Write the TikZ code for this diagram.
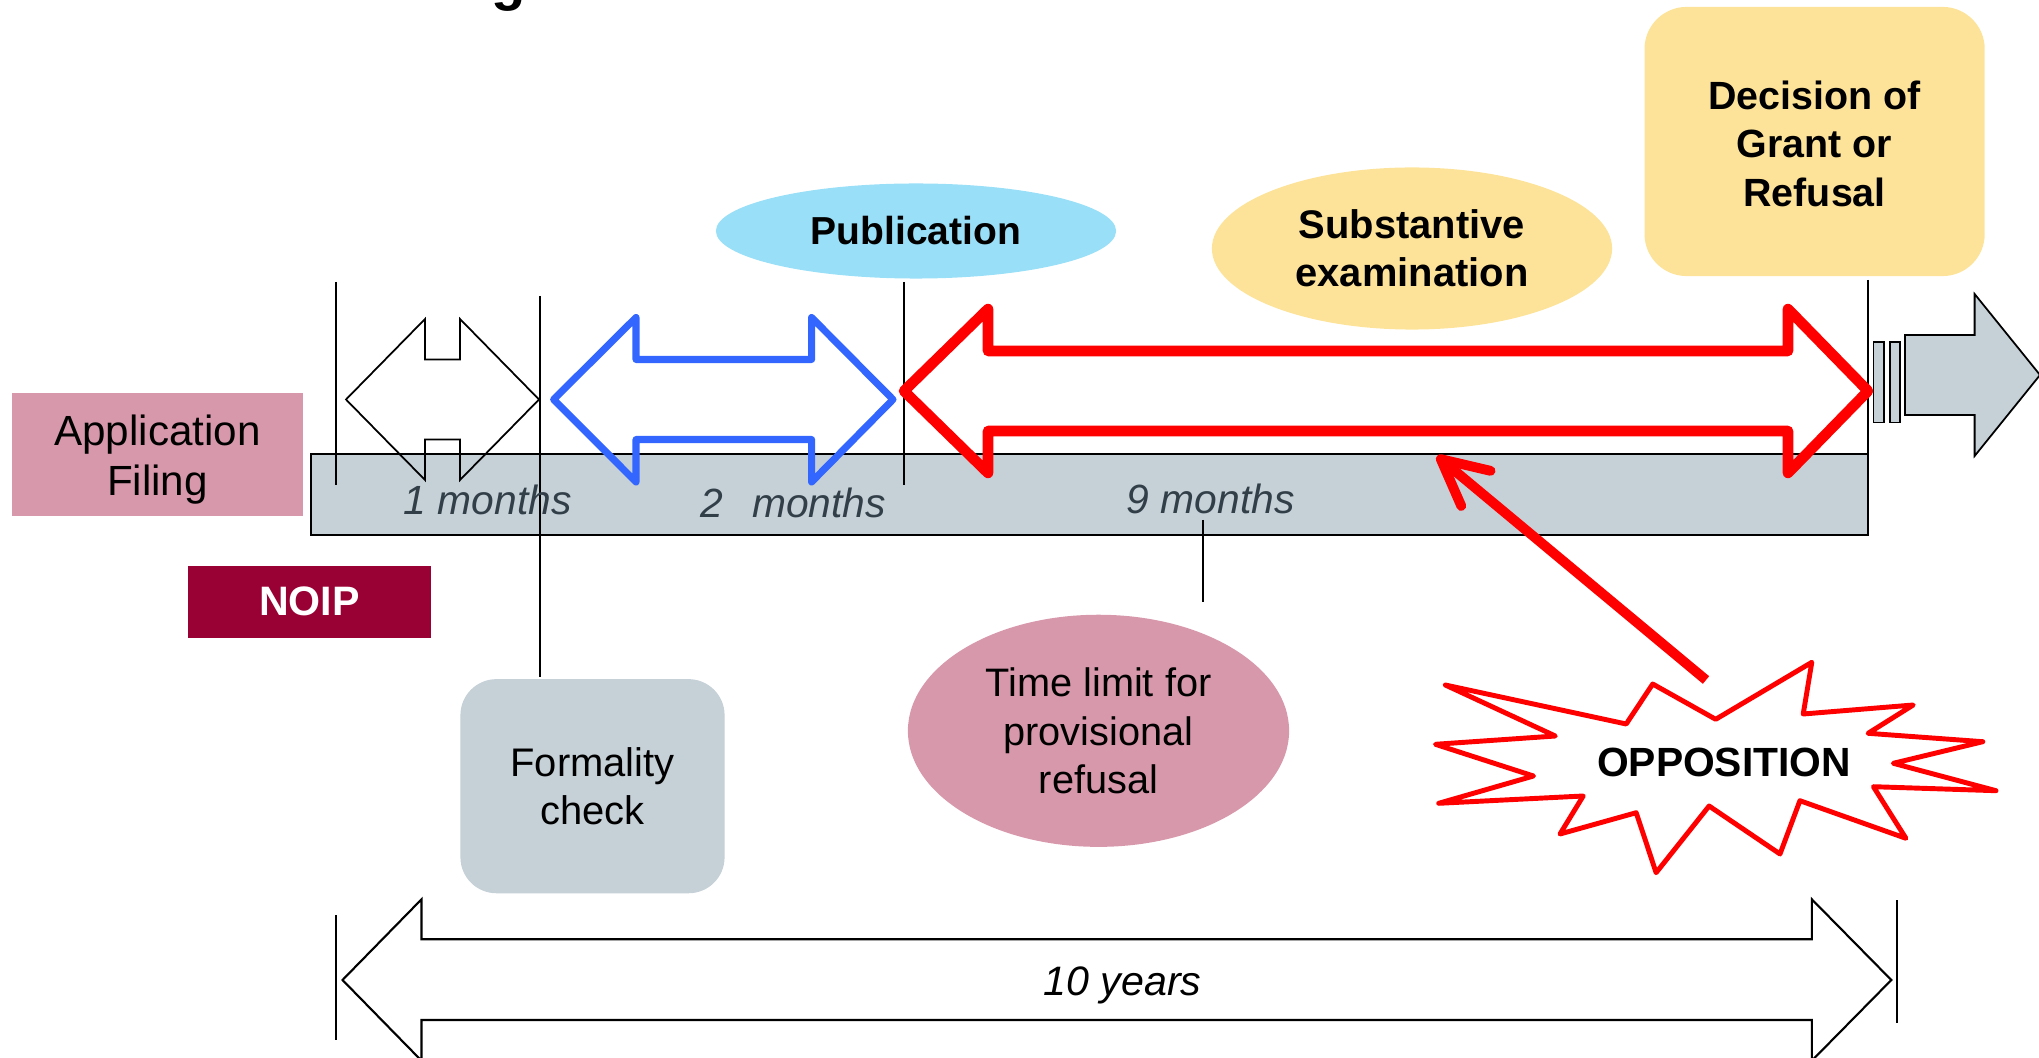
\documentclass[tikz,border=0pt]{standalone}
\usepackage{fontspec}
\setmainfont{Liberation Sans}
\usetikzlibrary{arrows.meta,shapes.geometric}
\definecolor{pinkf}{HTML}{D898AC}
\definecolor{barg}{HTML}{C5D0D7}
\definecolor{pubblue}{HTML}{99DFF7}
\definecolor{yel}{HTML}{FDE39A}
\definecolor{noipc}{HTML}{990033}
\definecolor{blu}{HTML}{3366FF}
\definecolor{mtext}{HTML}{333F48}
\begin{document}
\begin{tikzpicture}[x=0.01cm,y=-0.01cm,
  vline/.style={draw=black,line width=0.4pt},
  outlinearrow/.style={draw=black,line width=0.5pt,line join=miter},
  monthtxt/.style={anchor=base west,inner sep=0pt,text=mtext,font=\fontsize{11.6}{14}\selectfont\itshape},
  boxtxt/.style={inner sep=0pt,align=center}]
\useasboundingbox (0,0) rectangle (2039,1058);
% cut-off title fragment
\node[anchor=base,inner sep=0pt,font=\fontsize{16}{19}\selectfont\bfseries] (title) at (509,0) {g};
% timeline bar
\draw[line width=0.6pt,fill=barg] (311,454) rectangle (1868,535);
% vertical ticks
\draw[vline] (336,282) -- (336,485);
\draw[vline] (540,296) -- (540,677);
\draw[vline] (904,282) -- (904,485);
\draw[vline] (1203,520) -- (1203,602);
\draw[vline] (1868,280) -- (1868,535);
\draw[vline] (336,915) -- (336,1040);
\draw[vline] (1897,900) -- (1897,1023);
% 1 month arrow
\draw[outlinearrow] (346,399.5) -- (425,319) -- (425,359.5) -- (460,359.5) -- (460,319) -- (539,399.5) -- (460,480) -- (460,439.5) -- (425,439.5) -- (425,480) -- cycle;
% 2 months arrow
\draw[blu,line width=2pt,line join=round] (553.6,399.5) -- (636,317.5) -- (636,359.5) -- (811.6,359.5) -- (811.6,317.5) -- (893,399.5) -- (811.6,482) -- (811.6,439.5) -- (636,439.5) -- (636,482) -- cycle;
% 9 months arrow
\draw[red,line width=3pt,line join=round] (904,391) -- (988,309) -- (988,351) -- (1788,351) -- (1788,309) -- (1868,391) -- (1788,473) -- (1788,431) -- (988,431) -- (988,473) -- cycle;
% continuation arrow
\draw[line width=0.5pt,fill=barg] (1873.5,342) rectangle (1884,422.6);
\draw[line width=0.5pt,fill=barg] (1890,342) rectangle (1899.6,422.6);
\draw[line width=0.5pt,fill=barg] (1905,335) -- (1974.6,335) -- (1974.6,294) -- (2040,375) -- (1974.6,456) -- (1974.6,415) -- (1905,415) -- cycle;
% 10 years arrow
\draw[outlinearrow,line width=0.6pt] (342.5,980) -- (421.5,899.3) -- (421.5,939.3) -- (1811.8,939.3) -- (1811.8,899.3) -- (1891.3,980) -- (1811.8,1060.7) -- (1811.8,1020) -- (421.5,1020) -- (421.5,1060.7) -- cycle;
% boxes and ellipses
\node[fill=pinkf,minimum width=2.91cm,minimum height=1.23cm,inner sep=0pt] (app) at (157.5,454.5) {};
\node[boxtxt,font=\fontsize{12}{14.2}\selectfont] (apptxt) at ([yshift=-0.05cm]app.center) {Application\\Filing};
\node[boxtxt,fill=noipc,minimum width=2.43cm,minimum height=0.717cm,text=white,font=\fontsize{11.7}{14}\selectfont\bfseries] (noip) at (309.5,601.8) {NOIP};
\node[boxtxt,fill=barg,rounded corners=0.36cm,minimum width=2.64cm,minimum height=2.14cm,font=\fontsize{11.35}{13.5}\selectfont] (form) at (592.5,786.2) {Formality\\check};
\node[boxtxt,ellipse,fill=pubblue,minimum width=4.0cm,minimum height=0.95cm,font=\fontsize{11.1}{13.3}\selectfont\bfseries] (pub) at (916,231) {Publication};
\node[boxtxt,ellipse,fill=yel,minimum width=4.0cm,minimum height=1.62cm,font=\fontsize{11.35}{13.66}\selectfont\bfseries] (subst) at (1412,248.5) {Substantive\\examination};
\node[fill=yel,rounded corners=0.42cm,minimum width=3.40cm,minimum height=2.69cm,inner sep=0pt] (dec) at (1814.6,141.5) {};
\node[boxtxt,font=\fontsize{11.2}{13.8}\selectfont\bfseries] (dectxt) at ([yshift=-0.02cm]dec.center) {Decision of\\Grant or\\Refusal};
\node[boxtxt,ellipse,fill=pinkf,minimum width=3.81cm,minimum height=2.32cm,font=\fontsize{11.3}{13.75}\selectfont] (tl) at (1098.5,730.8) {Time limit for\\provisional\\refusal};
% month labels
\node[monthtxt] (m1) at (403,514.5) {1 months};
\node[monthtxt] (m2) at (700,518) {2\hspace{8.2pt}months};
\node[monthtxt] (m9) at (1126,514) {9 months};
\node[anchor=base west,inner sep=0pt,font=\fontsize{11.7}{14}\selectfont\itshape] (ten) at (1043,995) {10 years};
% opposition starburst
\draw[red,line width=1.4pt,fill=white,line join=round]
  (1445.3,685) -- (1626.2,724) -- (1652.7,684) -- (1715.7,719.3) -- (1811.8,662.3) -- (1803.2,714)
  -- (1913.2,705) -- (1868.1,733.3) -- (1982.8,741.7) -- (1893.3,763.3) -- (1996.0,790.7) -- (1873.4,786.7)
  -- (1905.9,838.3) -- (1799.9,800.7) -- (1780.0,854) -- (1709.1,806) -- (1656.1,872.7) -- (1636.2,812.7)
  -- (1560.0,834) -- (1583.2,796) -- (1438.7,803.3) -- (1533.5,776) -- (1435.4,744.3) -- (1555.3,736) -- cycle;
\node[anchor=base,inner sep=0pt,font=\fontsize{11.6}{14}\selectfont\bfseries] (opp) at (1724,776.7) {OPPOSITION};
\coordinate (oppTail) at (1706,680);
\coordinate (oppTip) at (1437,456);
\draw[red,line width=2.8pt,-{Straight Barb[length=13pt,width=13pt,round]}] (oppTail) -- (oppTip);
\end{tikzpicture}
\end{document}
